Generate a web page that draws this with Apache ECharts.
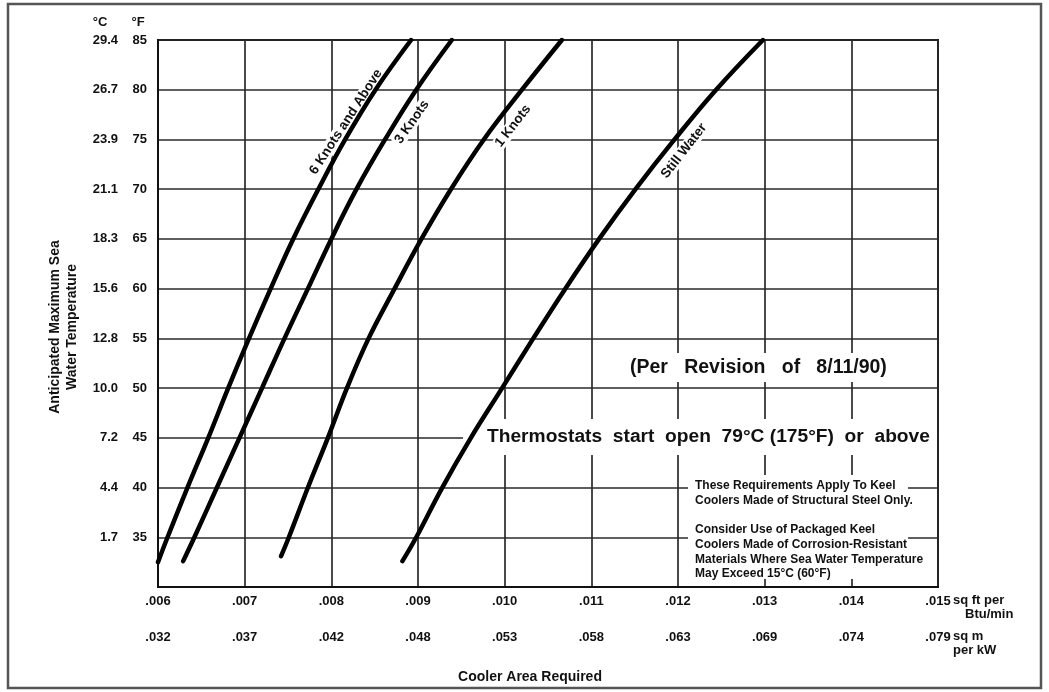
<!DOCTYPE html>
<html>
<head>
<meta charset="utf-8">
<script src="https://cdn.jsdelivr.net/npm/echarts@6/dist/echarts.min.js"></script>
<style>
html, body { margin: 0; padding: 0; background: #fff; }
#chart { width: 1049px; height: 692px; }
</style>
</head>
<body>
<div id="chart"></div>
<script>
// tick labels
const ftLabels = ['.006', '.007', '.008', '.009', '.010', '.011', '.012', '.013', '.014', '.015'];
const sqmLabels = ['.032', '.037', '.042', '.048', '.053', '.058', '.063', '.069', '.074', '.079'];
const tempF = [35, 40, 45, 50, 55, 60, 65, 70, 75, 80, 85];
const tempC = ['1.7', '4.4', '7.2', '10.0', '12.8', '15.6', '18.3', '21.1', '23.9', '26.7', '29.4'];

// curves: [sq ft per Btu/min, deg F]
const knots6 = [[0.00600, 32.5], [0.00611, 35], [0.00634, 40], [0.00658, 45], [0.00681, 50], [0.00705, 55],
  [0.00730, 60], [0.00756, 65], [0.00785, 70], [0.00816, 75], [0.00851, 80], [0.00892, 85]];
const knots3 = [[0.00629, 32.6], [0.00642, 35], [0.00668, 40], [0.00694, 45], [0.00720, 50], [0.00746, 55],
  [0.00773, 60], [0.00800, 65], [0.00829, 70], [0.00862, 75], [0.00898, 80], [0.00939, 85]];
const knots1 = [[0.00742, 33.1], [0.00751, 35], [0.00773, 40], [0.00796, 45], [0.00818, 50], [0.00843, 55],
  [0.00873, 60], [0.00904, 65], [0.00938, 70], [0.00976, 75], [0.01020, 80], [0.01066, 85]];
const stillWater = [[0.00882, 32.6], [0.00898, 35], [0.00928, 40], [0.00961, 45], [0.00997, 50], [0.01033, 55],
  [0.01070, 60], [0.01109, 65], [0.01151, 70], [0.01196, 75], [0.01244, 80], [0.01298, 85]];

const FONT = 'Liberation Sans, Arial, sans-serif';
const INK = '#111';

function idx(v, min, step) { return Math.round((v - min) / step); }

function curve(name, data) {
  return {
    name: name,
    type: 'line',
    data: data,
    smooth: 0.4,
    symbol: 'none',
    z: 2,
    lineStyle: { color: '#000', width: 4.5, cap: 'round' }
  };
}

function txt(x, y, text, opts) {
  return {
    type: 'text', x: x, y: y, z: 3, rotation: opts.rotation || 0,
    style: Object.assign({
      text: text, fill: INK,
      font: 'bold ' + (opts.size || 13) + 'px ' + FONT,
      align: opts.align || 'left', verticalAlign: 'middle'
    }, opts.style || {})
  };
}

function box(x, y, w, h) {
  return { type: 'rect', z: 1, shape: { x: x, y: y, width: w, height: h }, style: { fill: '#fff' } };
}

const deg = Math.PI / 180;
const curveLabel = { backgroundColor: '#fff', padding: [0, 2] };

const chart = echarts.init(document.getElementById('chart'));
const option = {
  animation: false,
  backgroundColor: '#fff',
  grid: { left: 158, right: 111, top: 40, bottom: 105, show: true, borderColor: '#111', borderWidth: 2 },
  xAxis: [{
    type: 'value', min: 0.006, max: 0.015, interval: 0.001,
    axisLine: { show: true, lineStyle: { color: '#111', width: 2 } },
    axisTick: { show: false },
    splitLine: { show: true, lineStyle: { color: '#2a2a2a', width: 1.7 } },
    axisLabel: {
      margin: 8, color: INK, fontFamily: FONT, fontWeight: 'bold', fontSize: 13,
      formatter: function (v) { return ftLabels[idx(v, 0.006, 0.001)] || ''; }
    }
  }, {
    type: 'value', min: 0.006, max: 0.015, interval: 0.001, position: 'bottom', offset: 36,
    axisLine: { show: false }, axisTick: { show: false }, splitLine: { show: false },
    axisLabel: {
      margin: 8, color: INK, fontFamily: FONT, fontWeight: 'bold', fontSize: 13,
      formatter: function (v) { return sqmLabels[idx(v, 0.006, 0.001)] || ''; }
    }
  }],
  yAxis: [{
    type: 'value', min: 30, max: 85, interval: 5,
    axisLine: { show: true, lineStyle: { color: '#111', width: 2 } },
    axisTick: { show: false },
    splitLine: { show: true, lineStyle: { color: '#2a2a2a', width: 1.7 } },
    axisLabel: {
      margin: 11, color: INK, fontFamily: FONT, fontWeight: 'bold', fontSize: 13,
      formatter: function (v) { return tempF.indexOf(v) >= 0 ? String(v) : ''; }
    }
  }, {
    type: 'value', min: 30, max: 85, interval: 5, position: 'left', offset: 29,
    axisLine: { show: false }, axisTick: { show: false }, splitLine: { show: false },
    axisLabel: {
      margin: 11, color: INK, fontFamily: FONT, fontWeight: 'bold', fontSize: 13,
      formatter: function (v) { const i = tempF.indexOf(v); return i >= 0 ? tempC[i] : ''; }
    }
  }],
  series: [
    curve('6 Knots and Above', knots6),
    curve('3 Knots', knots3),
    curve('1 Knots', knots1),
    curve('Still Water', stillWater)
  ],
  graphic: [
    { type: 'rect', z: 0, shape: { x: 8, y: 4, width: 1033, height: 684 },
      style: { fill: 'none', stroke: '#555', lineWidth: 2.5 } },
    txt(100, 22, '°C', { align: 'center' }),
    txt(138, 22, '°F', { align: 'center' }),
    txt(64, 327, 'Anticipated Maximum Sea\nWater Temperature',
      { align: 'center', rotation: 90 * deg, size: 14, style: { lineHeight: 17 } }),
    txt(530, 677, 'Cooler Area Required', { align: 'center', size: 14 }),
    txt(953, 600, 'sq ft per', {}),
    txt(965, 614, 'Btu/min', {}),
    txt(953, 636, 'sq m', {}),
    txt(953, 650, 'per kW', {}),
    // curve labels
    Object.assign(txt(346, 122, '6 Knots and Above', { align: 'center', rotation: 57 * deg, size: 13.5, style: curveLabel }), { z: 1 }),
    Object.assign(txt(412, 122, '3 Knots', { align: 'center', rotation: 55 * deg, size: 13.5, style: curveLabel }), { z: 1 }),
    Object.assign(txt(513, 126, '1 Knots', { align: 'center', rotation: 52 * deg, size: 13.5, style: curveLabel }), { z: 1 }),
    Object.assign(txt(684, 151, 'Still Water', { align: 'center', rotation: 52 * deg, size: 13.5, style: curveLabel }), { z: 1 }),
    // notes
    box(620, 353, 280, 29),
    txt(630, 368, '(Per   Revision   of   8/11/90)', { size: 19.5 }),
    box(463, 419, 474, 36),
    txt(487, 437, 'Thermostats  start  open  79°C (175°F)  or  above', { size: 19.2 }),
    box(688, 475, 220, 104),
    txt(695, 493, 'These Requirements Apply To Keel\nCoolers Made of Structural Steel Only.', { size: 12, style: { lineHeight: 15 } }),
    txt(695, 552, 'Consider Use of Packaged Keel\nCoolers Made of Corrosion-Resistant\nMaterials Where Sea Water Temperature\nMay Exceed 15°C (60°F)', { size: 12, style: { lineHeight: 14.6 } })
  ]
};
chart.setOption(option);
</script>
</body>
</html>
